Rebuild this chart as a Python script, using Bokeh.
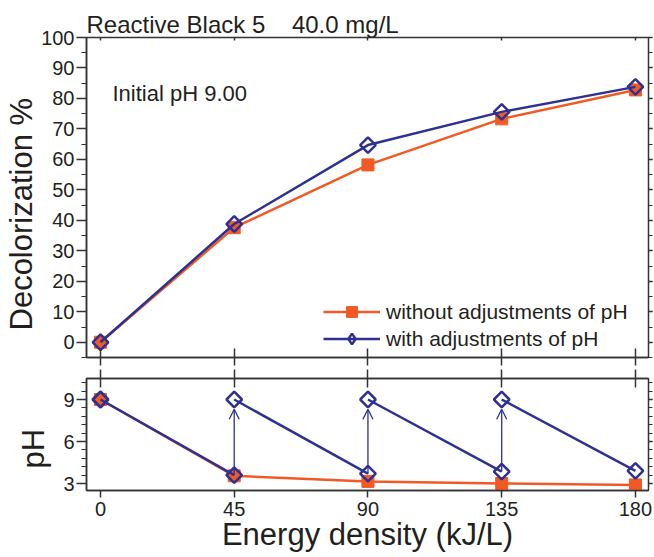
import math
from bokeh.plotting import figure
from bokeh.layouts import column
from bokeh.models import (ColumnDataSource, LinearAxis, FixedTicker, SingleIntervalTicker,
                          Range1d, Label, Legend, LegendItem, Arrow, OpenHead, Title)
from bokeh.embed import file_html
from bokeh.resources import INLINE

# ---------------- data ----------------
energy = [0, 45, 90, 135, 180]                 # kJ/L
x_ticks = [0, 45, 90, 135, 180]
decol_without = [0.0, 37.6, 58.2, 73.3, 82.8]  # %
decol_with = [0.0, 38.8, 64.7, 75.6, 83.8]     # %
ph_without = [9.0, 3.55, 3.15, 3.0, 2.9]
ph_with_before = [9.0, 3.6, 3.7, 3.85, 3.9]    # pH measured before re-adjustment
ph_with_after = [9.0, 9.0, 9.0, 9.0, None]     # pH after re-adjustment

title_text = "Reactive Black 5\u00a0\u00a0\u00a0\u00a040.0 mg/L"
note_text = "Initial pH 9.00"
legend_labels = ["without adjustments of pH", "with adjustments of pH"]
y1_title = "Decolorization %"
y2_title = "pH"
x_title = "Energy density (kJ/L)"

# ---------------- style ----------------
FONT = "Liberation Sans"
ORANGE = "#F15A24"
BLUE = "#2E3192"
AX = "#333333"
TXT = "#231F20"
LW = 2.5
W = 654


def style_axis(ax, labels=True, size="20px"):
    ax.axis_line_color = AX
    ax.axis_line_width = 1.5
    ax.major_tick_line_color = AX
    ax.major_tick_line_width = 1.5
    ax.minor_tick_line_color = AX
    ax.minor_tick_line_width = 1.2
    ax.major_label_text_font = FONT
    ax.major_label_text_color = TXT
    if labels:
        ax.major_label_text_font_size = size
    else:
        ax.major_label_text_font_size = "0px"
        ax.major_label_text_color = None
        ax.major_label_standoff = 0
        ax.axis_line_color = None


def base_fig(height, yr, top, bottom, xr=None):
    p = figure(width=W, height=height,
               x_range=xr if xr is not None else Range1d(-4.7, 184.4),
               y_range=yr, output_backend="svg", toolbar_location=None,
               min_border_left=86, min_border_right=6,
               min_border_top=top, min_border_bottom=bottom)
    p.grid.visible = False
    p.outline_line_color = AX
    p.outline_line_width = 1.5
    p.background_fill_color = "white"
    p.border_fill_color = "white"
    return p


def side_title(text, offset, standoff):
    return Title(text=text, align="left", offset=offset, standoff=standoff,
                 text_font=FONT, text_font_size="31px", text_font_style="normal",
                 text_color=TXT, vertical_align="bottom")


# ---------------- top panel ----------------
p1 = base_fig(367, Range1d(-5, 100), 37, 10)

xa = p1.xaxis[0]
xa.ticker = FixedTicker(ticks=x_ticks, minor_ticks=[])
style_axis(xa, labels=False)
xa.axis_line_color = AX
xa.major_tick_in = 9
xa.major_tick_out = 8

ya = p1.yaxis[0]
ya.ticker = SingleIntervalTicker(interval=10, num_minor_ticks=2)
style_axis(ya)
ya.major_tick_in = 0
ya.major_tick_out = 10
ya.minor_tick_in = 0
ya.minor_tick_out = 5
ya.major_label_standoff = 2
p1.add_layout(side_title(y1_title, 27, 0), "left")

ra = LinearAxis(ticker=SingleIntervalTicker(interval=10, num_minor_ticks=2))
style_axis(ra, labels=False)
ra.major_tick_in = 0
ra.major_tick_out = 4
ra.minor_tick_in = 0
ra.minor_tick_out = 4
p1.add_layout(ra, "right")

ta = LinearAxis(ticker=FixedTicker(ticks=x_ticks, minor_ticks=[]))
style_axis(ta, labels=False)
ta.major_tick_in = 3
ta.major_tick_out = 0
p1.add_layout(ta, "above")

p1.title.text = title_text
p1.title.align = "left"
p1.title.offset = 0
p1.title.standoff = 0
p1.title.text_font = FONT
p1.title.text_font_size = "24px"
p1.title.text_font_style = "normal"
p1.title.text_color = TXT

src1 = ColumnDataSource(dict(x=energy, wo=decol_without, w=decol_with))
l1 = p1.line("x", "wo", source=src1, line_color=ORANGE, line_width=LW)
s1 = p1.scatter("x", "wo", source=src1, marker="square", size=12,
                fill_color=ORANGE, line_color=ORANGE, line_width=1)
l2 = p1.line("x", "w", source=src1, line_color=BLUE, line_width=LW)
s2 = p1.scatter("x", "w", source=src1, marker="square", angle=math.pi / 4, size=11,
                fill_color=None, line_color=BLUE, line_width=2.5)
# legend-only diamond symbol (legend markers are never rotated); hidden in the plot
s2_leg = p1.scatter("x", "w", source=src1, marker="diamond", size=12,
                    fill_color=None, line_color=BLUE, line_width=2.5, visible=False)

legend = Legend(items=[LegendItem(label=legend_labels[0], renderers=[l1, s1]),
                       LegendItem(label=legend_labels[1], renderers=[l2, s2_leg])],
                location=(237, 5))
legend.border_line_color = None
legend.background_fill_alpha = 0
legend.padding = 0
legend.margin = 0
legend.spacing = 0
legend.glyph_width = 57
legend.glyph_height = 27
legend.label_height = 27
legend.label_standoff = 6
legend.label_text_font = FONT
legend.label_text_font_size = "21px"
legend.label_text_color = TXT
p1.add_layout(legend)

p1.add_layout(Label(x=26, y=264, x_units="screen", y_units="screen", text=note_text,
                    text_font=FONT, text_font_size="22px", text_color=TXT,
                    text_baseline="alphabetic"))

# ---------------- bottom panel ----------------
p2 = base_fig(190, Range1d(2.5, 10.5), 11, 67, xr=p1.x_range)

bx = p2.xaxis[0]
bx.ticker = FixedTicker(ticks=x_ticks, minor_ticks=[])
style_axis(bx)
bx.major_tick_in = 0
bx.major_tick_out = 7
bx.major_label_standoff = 4
bx.axis_label = x_title
bx.axis_label_text_font = FONT
bx.axis_label_text_color = TXT
bx.axis_label_text_font_style = "normal"
bx.axis_label_text_font_size = "31px"
bx.axis_label_standoff = -2

by = p2.yaxis[0]
by.ticker = SingleIntervalTicker(interval=3, num_minor_ticks=5)
style_axis(by)
by.major_tick_in = 0
by.major_tick_out = 10
by.minor_tick_in = 0
by.minor_tick_out = 5
by.major_label_standoff = 2
p2.add_layout(side_title(y2_title, 22, 20), "left")

ra2 = LinearAxis(ticker=SingleIntervalTicker(interval=3, num_minor_ticks=5))
style_axis(ra2, labels=False)
ra2.major_tick_in = 0
ra2.major_tick_out = 4
ra2.minor_tick_in = 0
ra2.minor_tick_out = 4
p2.add_layout(ra2, "right")

ta2 = LinearAxis(ticker=FixedTicker(ticks=x_ticks, minor_ticks=[]))
style_axis(ta2, labels=False)
ta2.axis_line_color = AX
ta2.major_tick_in = 9
ta2.major_tick_out = 9
p2.add_layout(ta2, "above")

src2 = ColumnDataSource(dict(x=energy, wo=ph_without, b=ph_with_before))
p2.line("x", "wo", source=src2, line_color=ORANGE, line_width=LW)
p2.scatter("x", "wo", source=src2, marker="square", size=12,
           fill_color=ORANGE, line_color=ORANGE, line_width=1)

seg = ColumnDataSource(dict(x0=energy[:-1], y0=ph_with_after[:-1],
                            x1=energy[1:], y1=ph_with_before[1:]))
p2.segment("x0", "y0", "x1", "y1", source=seg, line_color=BLUE, line_width=LW)

arr = ColumnDataSource(dict(x=energy[1:4], ys=ph_with_before[1:4],
                            ye=[a - 0.7 for a in ph_with_after[1:4]]))
p2.add_layout(Arrow(end=OpenHead(size=10, line_color=BLUE, line_width=1.3),
                    x_start="x", y_start="ys", x_end="x", y_end="ye", source=arr,
                    line_color=BLUE, line_width=1.3))

dx = energy + [e for e, a in zip(energy, ph_with_after) if a is not None]
dy = ph_with_before + [a for a in ph_with_after if a is not None]
p2.scatter(dx, dy, marker="square", angle=math.pi / 4, size=11,
           fill_color=None, line_color=BLUE, line_width=2.5)

layout = column(p1, p2, spacing=0)
open("out.html", "w").write(file_html(layout, INLINE))
